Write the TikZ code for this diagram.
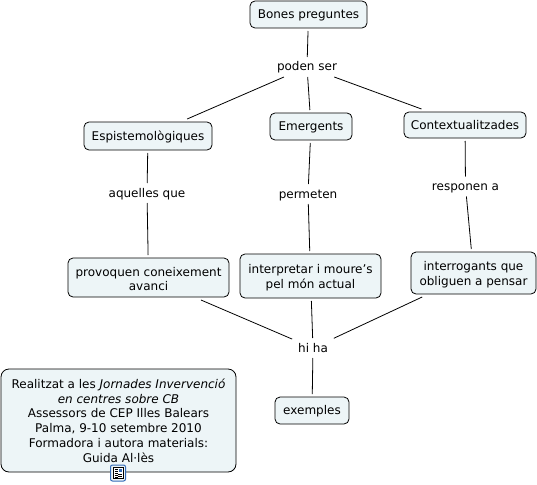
\documentclass[tikz,border=0pt]{standalone}
\usepackage{fontspec}
\setmainfont{DejaVu Sans}[Ligatures=ResetAll]
\usetikzlibrary{positioning}
\definecolor{boxfill}{rgb}{0.93,0.96,0.97}
\definecolor{iconblue}{rgb}{0.2,0.42,0.72}
\newcommand{\firstline}{\rule{0pt}{12pt}}
\tikzset{
  concept/.style={draw=black,fill=boxfill,rounded corners=5pt,line width=0.8pt,align=center,inner sep=0pt,font=\fontsize{12}{14.6}\selectfont,outer sep=3pt},
  oneline/.style={text height=9pt,text depth=0pt},
  linkword/.style={align=center,font=\fontsize{12}{14}\selectfont,inner sep=1pt,outer sep=5pt,text height=8pt,text depth=0pt},
  link/.style={line width=0.8pt,black}
}
\begin{document}
\begin{tikzpicture}[x=1pt,y=-1pt]
  \useasboundingbox (0,0) rectangle (537,484);
  % concepts
  \node[concept,oneline,minimum width=117pt,minimum height=27pt] (bones) at (308.5,14.5) {Bones preguntes};
  \node[concept,oneline,minimum width=128pt,minimum height=28pt] (episte) at (148,136) {Espistemològiques};
  \node[concept,oneline,text height=8pt,minimum width=82pt,minimum height=27pt] (emerg) at (311,126.5) {Emergents};
  \node[concept,oneline,minimum width=122pt,minimum height=26pt] (context) at (465,125) {Contextualitzades};
  \node[concept,minimum width=161pt,minimum height=39pt] (provoq) at (148.5,277.5) {\firstline provoquen coneixement\\avanci};
  \node[concept,minimum width=141pt,minimum height=44pt] (interp) at (310.5,276) {\firstline interpretar i moure's\\pel món actual};
  \node[concept,minimum width=125pt,minimum height=42pt] (interr) at (473.5,273) {\firstline interrogants que\\obliguen a pensar};
  \node[concept,oneline,text height=8pt,minimum width=74pt,minimum height=27pt] (exemples) at (312,410.5) {exemples};
  \node[concept,font=\fontsize{12}{14.8}\selectfont,minimum width=235pt,minimum height=103pt,rounded corners=8pt] (nota) at (118.5,420.5) {Realitzat a les \textit{Jornades Invervenció}\\\textit{en centres sobre CB}\\Assessors de CEP Illes Balears\\Palma, 9-10 setembre 2010\\Formadora i autora materials:\\Guida Al·lès};
  % linking words
  \node[linkword] (poden) at (307,67) {poden ser};
  \node[linkword] (aquelles) at (147,193) {aquelles que};
  \node[linkword] (permeten) at (308,194) {permeten};
  \node[linkword] (responen) at (465.5,186.5) {responen a};
  \node[linkword] (hiha) at (313,348) {hi ha};
  % links
  \draw[link] (bones) -- (poden);
  \draw[link] (poden) -- (episte);
  \draw[link] (poden) -- (emerg);
  \draw[link] (poden) -- (context);
  \draw[link] (episte) -- (aquelles);
  \draw[link] (aquelles) -- (provoq);
  \draw[link] (emerg) -- (permeten);
  \draw[link] (permeten) -- (interp);
  \draw[link] (context) -- (responen);
  \draw[link] (responen) -- (interr);
  \draw[link] (provoq) -- (hiha);
  \draw[link] (interp) -- (hiha);
  \draw[link] (interr) -- (hiha);
  \draw[link] (hiha) -- (exemples);
  % resource icon
  \draw[iconblue,fill=boxfill,rounded corners=2pt,line width=1pt] (110.5,465) rectangle (125.5,481);
  \draw[black,fill=white,line width=0.6pt] (113,467.5) rectangle (123,478.5);
  \fill[iconblue] (118.5,468.5) rectangle (122,472);
  \foreach \y in {469.5,471.5,473.5,475.5,477}
    \draw[black,line width=0.6pt] (114.5,\y) -- (118,\y);
  \draw[black,line width=0.6pt] (118,474) -- (122,474) (118,476) -- (122,476);
\end{tikzpicture}
\end{document}
